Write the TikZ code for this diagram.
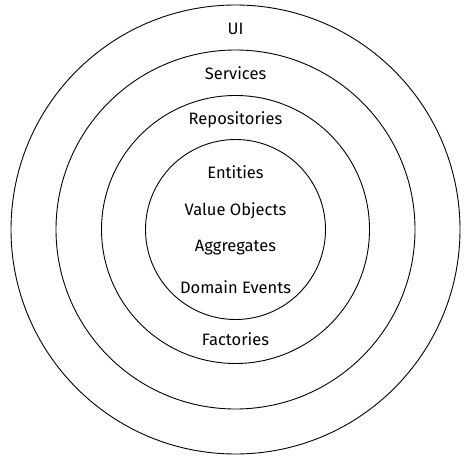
\documentclass[tikz,border=0pt]{standalone}
\usepackage{fontspec}
\setmainfont{Fira Sans}
\usepackage{tikz}
\usetikzlibrary{positioning}

\begin{document}
\begin{tikzpicture}[
  x=1pt, y=1pt,
  ring/.style={draw=black, circle, line width=0.9pt, inner sep=0pt},
  layer/.style={font=\fontsize{16.5}{19}\selectfont, inner sep=1pt},
]
  \useasboundingbox (0,0) rectangle (471,459);
  \coordinate (c) at (235.5,229.5);
  % rings, outside in
  \node[ring, minimum size=449pt] (uiRing) at (c) {};
  \node[ring, minimum size=359pt] (servRing) at (c) {};
  \node[ring, minimum size=268pt] (repoRing) at (c) {};
  \node[ring, minimum size=180pt] (domRing) at (c) {};
  % labels
  \node[layer] (ui) at (235.5,430) {UI};
  \node[layer] (services) at (235.5,386) {Services};
  \node[layer] (repos) at (235.5,339) {Repositories};
  \node[layer] (entities) at (235.5,287) {Entities};
  \node[layer] (values) at (235.5,248) {Value Objects};
  \node[layer] (aggr) at (235.5,211) {Aggregates};
  \node[layer] (events) at (235.5,172) {Domain Events};
  \node[layer] (factories) at (235.5,120) {Factories};
\end{tikzpicture}
\end{document}
